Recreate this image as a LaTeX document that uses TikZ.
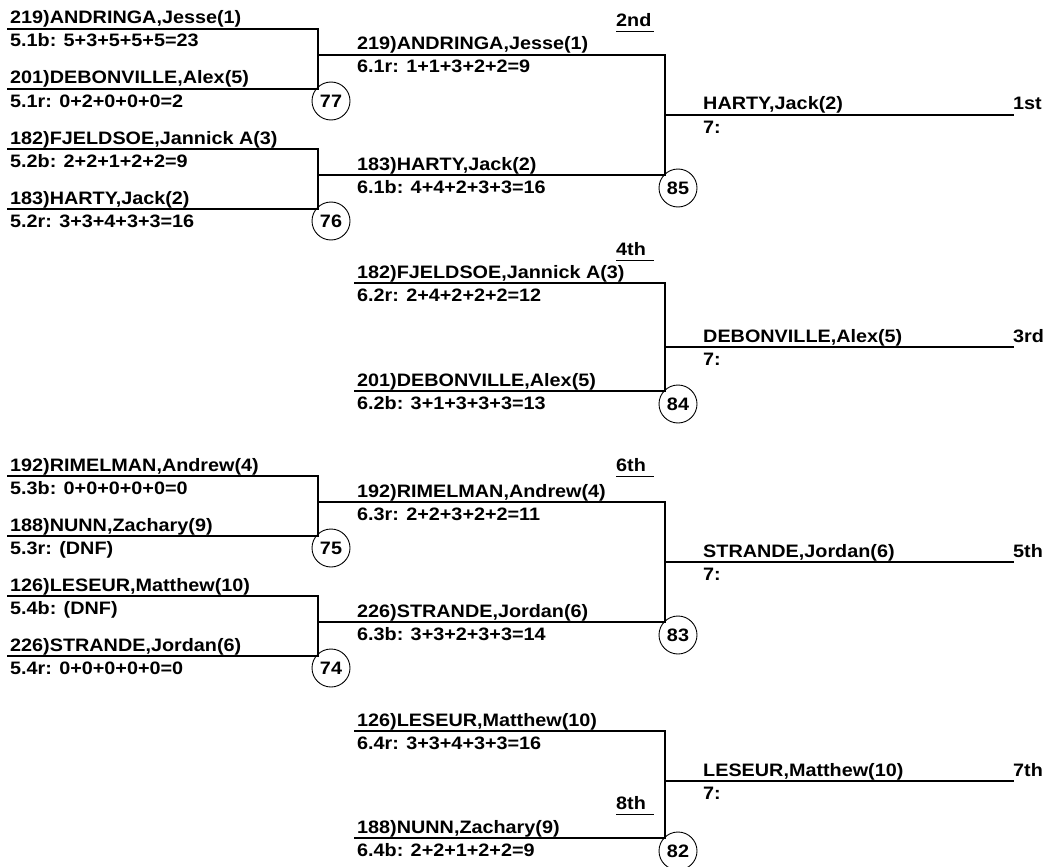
\documentclass[tikz,border=0pt]{standalone}
\usepackage{fontspec}
\setmainfont{Liberation Sans}[FakeStretch=1.1]
\usetikzlibrary{positioning}
\tikzset{
  every picture/.style={line cap=rect,line join=miter},
  slotline/.style={line width=1.1pt,draw=black},
  who/.style={anchor=base west,inner sep=0pt,font=\fontsize{18}{21}\selectfont\bfseries},
  score/.style={anchor=base west,inner sep=0pt,font=\fontsize{18}{21}\selectfont\bfseries},
  matchno/.style={circle,draw=black,line width=.9pt,minimum size=38pt,inner sep=0pt,
    font=\fontsize{18}{21}\selectfont\bfseries},
  place/.style={anchor=base west,inner sep=0pt,font=\fontsize{18}{21}\selectfont\bfseries},
  underrule/.style={line width=1pt,draw=black}
}
\begin{document}
\begin{tikzpicture}[x=1pt,y=-1pt]
  \useasboundingbox (0,0) rectangle (1045,867);

  % Round 5 slots (left column).
  \foreach \y/\id/\nm/\sc in {
    29/a/{219)ANDRINGA,Jesse(1)}/{5.1b: 5+3+5+5+5=23},
    89/b/{201)DEBONVILLE,Alex(5)}/{5.1r: 0+2+0+0+0=2},
    149/c/{182)FJELDSOE,Jannick A(3)}/{5.2b: 2+2+1+2+2=9},
    209/d/{183)HARTY,Jack(2)}/{5.2r: 3+3+4+3+3=16},
    476/e/{192)RIMELMAN,Andrew(4)}/{5.3b: 0+0+0+0+0=0},
    536/f/{188)NUNN,Zachary(9)}/{5.3r: (DNF)},
    596/g/{126)LESEUR,Matthew(10)}/{5.4b: (DNF)},
    656/h/{226)STRANDE,Jordan(6)}/{5.4r: 0+0+0+0+0=0}}{
    \coordinate (r5\id-l) at (8,\y);
    \coordinate (r5\id-r) at (318,\y);
    \draw[slotline] (r5\id-l) -- (r5\id-r);
    \node[who] (r5\id-name) at (10,{\y-5}) {\nm};
    \node[score] (r5\id-score) at (10,{\y+18}) {\sc};
  }

  % Round 6 slots (middle column).
  \foreach \y/\x/\id/\nm/\sc in {
    55/318/a/{219)ANDRINGA,Jesse(1)}/{6.1r: 1+1+3+2+2=9},
    175/318/b/{183)HARTY,Jack(2)}/{6.1b: 4+4+2+3+3=16},
    283/355/c/{182)FJELDSOE,Jannick A(3)}/{6.2r: 2+4+2+2+2=12},
    391/355/d/{201)DEBONVILLE,Alex(5)}/{6.2b: 3+1+3+3+3=13},
    502/318/e/{192)RIMELMAN,Andrew(4)}/{6.3r: 2+2+3+2+2=11},
    622/318/f/{226)STRANDE,Jordan(6)}/{6.3b: 3+3+2+3+3=14},
    731/355/g/{126)LESEUR,Matthew(10)}/{6.4r: 3+3+4+3+3=16},
    838/355/h/{188)NUNN,Zachary(9)}/{6.4b: 2+2+1+2+2=9}}{
    \coordinate (r6\id-l) at (\x,\y);
    \coordinate (r6\id-r) at (665,\y);
    \draw[slotline] (r6\id-l) -- (r6\id-r);
    \node[who] (r6\id-name) at (357,{\y-5}) {\nm};
    \node[score] (r6\id-score) at (357,{\y+18}) {\sc};
  }

  % Round 7 slots (right column) with their places.
  \foreach \y/\id/\nm/\pl in {
    115/a/{HARTY,Jack(2)}/1st,
    347/b/{DEBONVILLE,Alex(5)}/3rd,
    562/c/{STRANDE,Jordan(6)}/5th,
    781/d/{LESEUR,Matthew(10)}/7th}{
    \coordinate (r7\id-l) at (665,\y);
    \coordinate (r7\id-r) at (1013,\y);
    \draw[slotline] (r7\id-l) -- (r7\id-r);
    \node[who] (r7\id-name) at (703,{\y-5}) {\nm};
    \node[score] (r7\id-score) at (703,{\y+18}) {7:};
    \node[place] (r7\id-place) at (1013,{\y-5}) {\pl};
  }

  % Joins between the paired slots.
  \draw[slotline] (r5a-r) -- (r5b-r);
  \draw[slotline] (r5c-r) -- (r5d-r);
  \draw[slotline] (r5e-r) -- (r5f-r);
  \draw[slotline] (r5g-r) -- (r5h-r);
  \draw[slotline] (r6a-r) -- (r6b-r);
  \draw[slotline] (r6c-r) -- (r6d-r);
  \draw[slotline] (r6e-r) -- (r6f-r);
  \draw[slotline] (r6g-r) -- (r6h-r);

  % Match numbers.
  \node[matchno] (m77) at (331,101) {77};
  \node[matchno] (m76) at (331,221) {76};
  \node[matchno] (m75) at (331,548) {75};
  \node[matchno] (m74) at (331,668) {74};
  \node[matchno] (m85) at (678,188) {85};
  \node[matchno] (m84) at (678,404) {84};
  \node[matchno] (m83) at (678,635) {83};
  \node[matchno] (m82) at (678,851) {82};

  % Losers' places.
  \foreach \y/\id/\pl in {27/p2/2nd,255/p4/4th,471/p6/6th,809/p8/8th}{
    \node[place] (\id) at (616,\y) {\pl};
    \draw[underrule] (\id.base west) ++(0,5) coordinate (\id-ul) -- ++(37,0) coordinate (\id-ur);
  }
\end{tikzpicture}
\end{document}
